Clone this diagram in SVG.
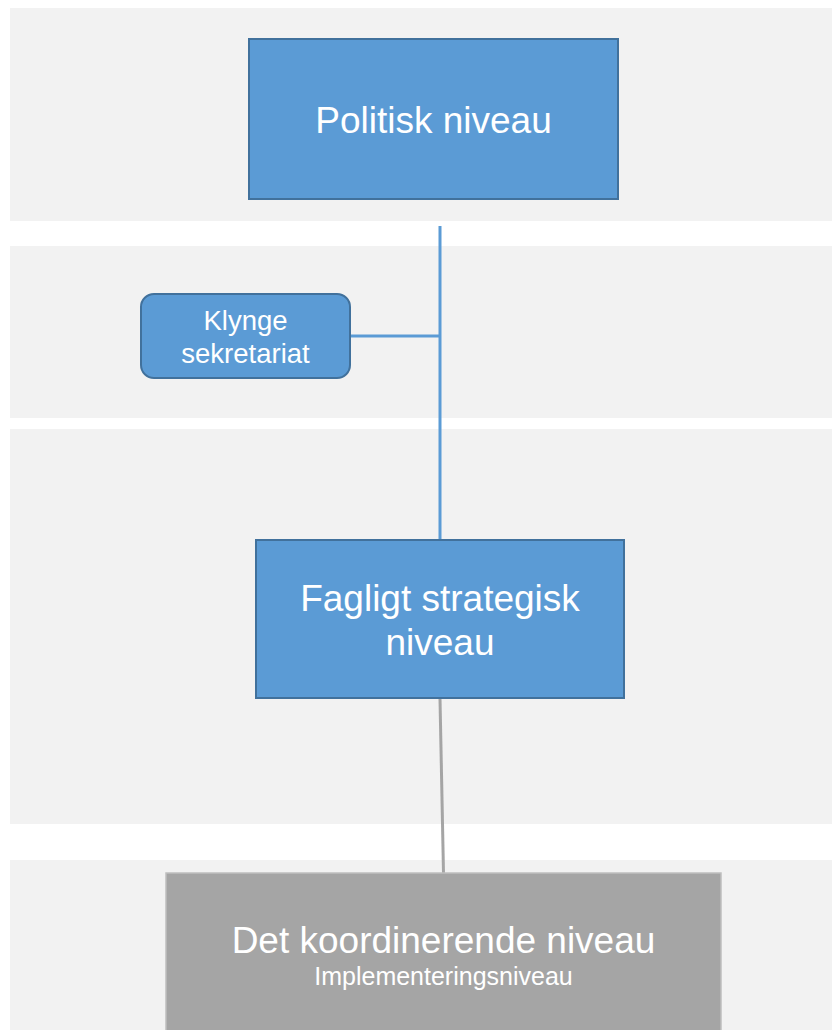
<svg xmlns="http://www.w3.org/2000/svg" width="832" height="1030" viewBox="0 0 832 1030">
<style>
.band{fill:#F2F2F2}
.blue{fill:#5B9BD5;stroke:#41719C;stroke-width:2}
.gray{fill:#A5A5A5;stroke:#BFBFBF;stroke-width:1.5}
.t{font-family:"Liberation Sans",Arial,sans-serif;fill:#FFFFFF;text-anchor:middle}
.cb{stroke:#5B9BD5;stroke-width:3;fill:none}
.cg{stroke:#A5A5A5;stroke-width:3;fill:none}
</style>
<rect width="832" height="1030" fill="#FFFFFF"/>
<g id="bands">
<rect class="band" x="10" y="8" width="822" height="213"/>
<rect class="band" x="10" y="246" width="822" height="172"/>
<rect class="band" x="10" y="429" width="822" height="395"/>
<rect class="band" x="10" y="860" width="822" height="170"/>
</g>
<g id="connectors">
<line class="cb" x1="440" y1="226" x2="440" y2="540"/>
<line class="cb" x1="350" y1="336" x2="440" y2="336"/>
<line class="cg" x1="440" y1="699" x2="443.5" y2="873"/>
</g>
<g id="politisk">
<rect class="blue" x="249" y="39" width="369" height="160"/>
<text class="t" x="433.5" y="133" font-size="37">Politisk niveau</text>
</g>
<g id="klynge">
<rect class="blue" x="141" y="294" width="209" height="84" rx="13"/>
<text class="t" x="245.5" y="330" font-size="27.5">Klynge</text>
<text class="t" x="245.5" y="363" font-size="27.5">sekretariat</text>
</g>
<g id="fagligt">
<rect class="blue" x="256" y="540" width="368" height="158"/>
<text class="t" x="440" y="611" font-size="37">Fagligt strategisk</text>
<text class="t" x="440" y="655" font-size="37">niveau</text>
</g>
<g id="koordinerende">
<rect class="gray" x="166" y="873" width="555" height="170"/>
<text class="t" x="443.5" y="953" font-size="37">Det koordinerende niveau</text>
<text class="t" x="443.5" y="985" font-size="25">Implementeringsniveau</text>
</g>
</svg>
